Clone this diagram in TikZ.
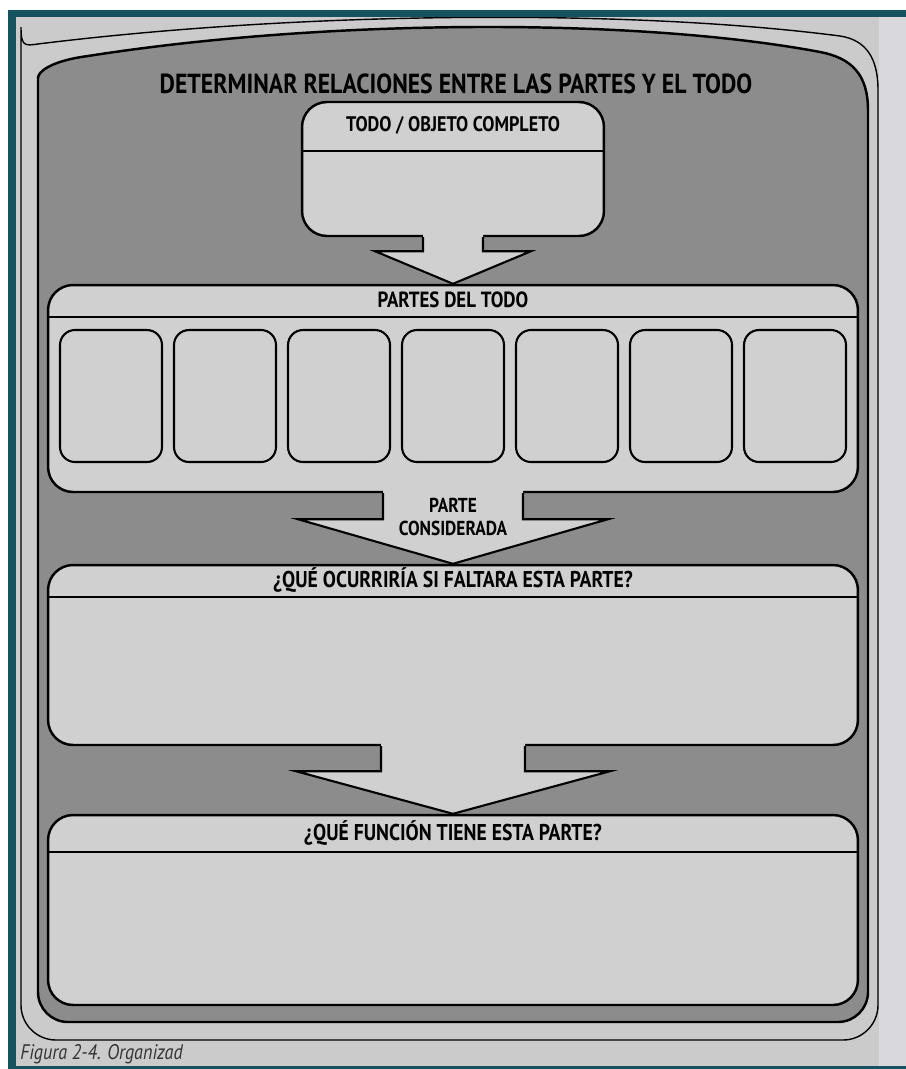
\documentclass[tikz,border=0pt]{standalone}
\usepackage{fontspec}
\setmainfont{PT Sans}
\newfontfamily\hdfont[FakeStretch=0.86]{PT Sans}
\usetikzlibrary{calc}

\definecolor{frameteal}{HTML}{17535E}
\definecolor{pagegray}{HTML}{CBCBCB}
\definecolor{pageedge}{HTML}{D9D9DD}
\definecolor{panelgray}{HTML}{8C8C8C}
\definecolor{boxgray}{HTML}{D0D0D0}

\begin{document}
\begin{tikzpicture}[
        x=0.02cm, y=-0.02cm,
        bigbox/.style={draw, line width=1.4pt, fill=boxgray, rounded corners=0.5cm, inner sep=0pt},
        partbox/.style={draw, line width=1.2pt, fill=boxgray, rounded corners=0.3cm, inner sep=0pt,
                        minimum width=2.04cm, minimum height=2.64cm},
        hdr/.style={font=\hdfont\bfseries\fontsize{12.5}{14}\selectfont, inner sep=0pt},
        hline/.style={line width=0.9pt},
        arw/.style={fill=boxgray},
        arwline/.style={line width=1.2pt}
    ]
    \useasboundingbox (0,0) rectangle (906,1069);

    % page of the book
    \fill[white] (0,0) rectangle (906,1069);
    \fill[pagegray] (16,17) rectangle (906,1066);
    \fill[pageedge] (879,17) rectangle (906,1066);

    % outer band and dark panel
    \draw[line width=0.8pt, fill=pagegray] (21,62) .. controls (21,50) and (26,45) .. (46,43)
        .. controls (320,10) and (640,10) .. (840,36)
        .. controls (866,40) and (878,58) .. (878,90)
        [rounded corners=0.7cm] -- (878,1040) -- (21,1040) -- cycle;
    \draw[line width=1.4pt, fill=panelgray] (38,108) .. controls (38,72) and (50,61) .. (88,56)
        .. controls (330,18) and (640,18) .. (820,52)
        .. controls (852,58) and (868,75) .. (868,110)
        [rounded corners=0.6cm] -- (868,1022) -- (38,1022) -- cycle;

    % title
    \node[hdr, font=\hdfont\bfseries\fontsize{15.7}{17}\selectfont] (title) at (456,84)
        {DETERMINAR RELACIONES ENTRE LAS PARTES Y EL TODO};

    % boxes
    \node[bigbox, minimum width=6.04cm, minimum height=2.68cm] (todo) at (453,169) {};
    \node[bigbox, minimum width=16.2cm, minimum height=4.14cm] (partes) at (453,388.5) {};
    \node[bigbox, minimum width=16.2cm, minimum height=3.6cm] (ocurre) at (453,655) {};
    \node[bigbox, minimum width=16.2cm, minimum height=3.8cm] (funcion) at (453,910) {};

    % header lines
    \draw[hline] ($(todo.north west)+(0,50)$) -- ($(todo.north east)+(0,50)$);
    \draw[hline] ($(partes.north west)+(0,33)$) -- ($(partes.north east)+(0,33)$);
    \draw[hline] ($(ocurre.north west)+(0,33)$) -- ($(ocurre.north east)+(0,33)$);
    \draw[hline] ($(funcion.north west)+(0,38)$) -- ($(funcion.north east)+(0,38)$);

    % parts of the whole
    \foreach \i in {1,...,7}
        \node[partbox] (p\i) at ({111+114*(\i-1)},396) {};

    % arrows between boxes
    \foreach \a/\b/\s/\h/\l in {todo/partes/30/78/14, partes/ocurre/70/155/26, ocurre/funcion/72/157/25} {
        \fill[arw] ($(\a.south)+(-\s,-4)$) -- ($(\a.south)+(-\s,\l)$) -- ($(\a.south)+(-\h,\l)$)
            -- (\b.north) -- ($(\a.south)+(\h,\l)$) -- ($(\a.south)+(\s,\l)$) -- ($(\a.south)+(\s,-4)$) -- cycle;
        \draw[arwline] ($(\a.south)+(-\s,0)$) -- ($(\a.south)+(-\s,\l)$) -- ($(\a.south)+(-\h,\l)$)
            -- (\b.north) -- ($(\a.south)+(\h,\l)$) -- ($(\a.south)+(\s,\l)$) -- ($(\a.south)+(\s,0)$);
    }

    % labels
    \node[hdr, font=\hdfont\bfseries\fontsize{12}{14}\selectfont] (todo-t) at ($(todo.north)+(0,25)$)
        {TODO / OBJETO COMPLETO};
    \node[hdr] (partes-t) at ($(partes.north)+(0,16)$) {PARTES DEL TODO};
    \node[hdr, font=\hdfont\bfseries\fontsize{11.5}{13}\selectfont, align=center] (considerada)
        at ($(partes.south)+(0,24)$) {PARTE\\CONSIDERADA};
    \node[hdr, font=\hdfont\bfseries\fontsize{13}{14}\selectfont] (ocurre-t) at ($(ocurre.north)+(0,16)$)
        {¿QUÉ OCURRIRÍA SI FALTARA ESTA PARTE?};
    \node[hdr, font=\hdfont\bfseries\fontsize{13}{14}\selectfont] (funcion-t) at ($(funcion.north)+(0,19)$)
        {¿QUÉ FUNCIÓN TIENE ESTA PARTE?};

    % caption at the foot of the page
    \node[anchor=base west, inner sep=0pt, text=black!80, font=\hdfont\itshape\fontsize{12}{14}\selectfont]
        (caption) at (20,1059) {Figura 2-4. Organizad};

    % photo frame
    \fill[frameteal] (8,10) rectangle (906,17);
    \fill[frameteal] (8,10) rectangle (16,1069);
    \fill[frameteal] (8,1066) rectangle (906,1069);
\end{tikzpicture}
\end{document}
